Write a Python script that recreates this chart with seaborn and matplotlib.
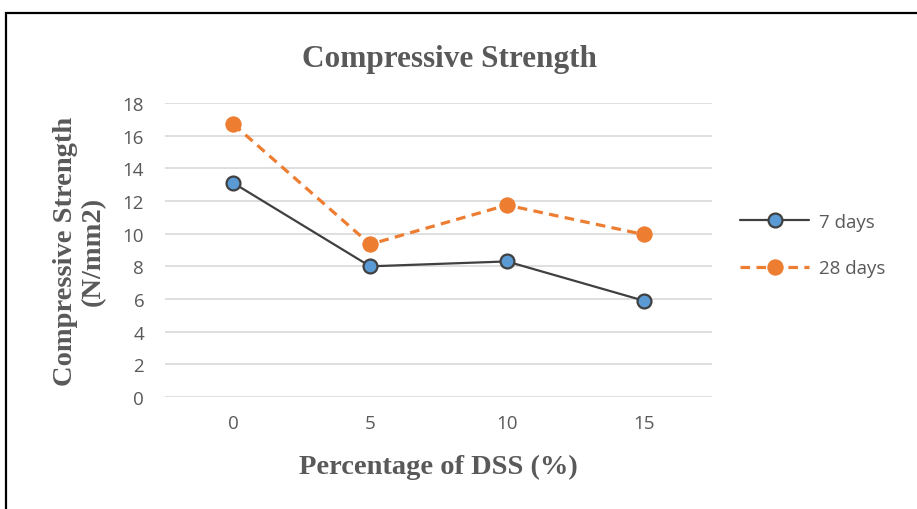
import matplotlib
matplotlib.use("Agg")
import matplotlib.pyplot as plt
import seaborn as sns
import pandas as pd
from matplotlib.patches import Rectangle

categories = ["0", "5", "10", "15"]
days7 = [13.1, 8.0, 8.3, 5.9]
days28 = [16.7, 9.35, 11.75, 9.95]
yticks = [0, 2, 4, 6, 8, 10, 12, 14, 16, 18]

sns.set_theme(style="white")
plt.rcParams['font.family'] = ['Open Sans', 'DejaVu Sans']

fig = plt.figure(figsize=(9.17, 5.10), dpi=100)
ax = fig.add_axes([165/917, 1-398/510, (712-165)/917, (398-104)/510])

df7 = pd.DataFrame({"x": categories, "y": days7})
df28 = pd.DataFrame({"x": categories, "y": days28})

sns.lineplot(data=df7, x="x", y="y", ax=ax, color="#404040", lw=1.6,
             marker="o", markersize=10, markerfacecolor="#5B9BD5",
             markeredgecolor="#404040", markeredgewidth=1.6, label="7 days", zorder=3)
sns.lineplot(data=df28, x="x", y="y", ax=ax, color="#ED7D31", lw=2.3,
             linestyle=(0, (3, 2)), marker="o", markersize=11,
             markerfacecolor="#ED7D31", markeredgecolor="#ED7D31", label="28 days", zorder=3)

ax.set_xlim(-0.5, 3.5)
ax.set_ylim(0, 18)
ax.set_yticks(yticks)
ax.yaxis.grid(True, color="#D9D9D9", lw=1.2)
ax.xaxis.grid(False)
for s in ax.spines.values():
    s.set_visible(False)
ax.tick_params(axis="y", length=0, labelsize=13.5, colors="#595959", pad=15)
ax.tick_params(axis="x", length=0, labelsize=13.5, colors="#595959", pad=12)

ax.set_xlabel("Percentage of DSS (%)", family="Liberation Serif", weight="bold",
              fontsize=20.5, color="#595959", labelpad=16)
ax.set_ylabel("Compressive Strength\n(N/mm2)", family="Liberation Serif", weight="bold",
              fontsize=20.5, color="#595959", labelpad=12, linespacing=1.15)
fig.text((300+598)/2/917, 1-60/510, "Compressive Strength", family="Liberation Serif",
         weight="bold", fontsize=22.5, color="#595959", ha="center", va="center")

leg = ax.legend(loc="center left", bbox_to_anchor=(740/917, 1-246/510),
                bbox_transform=fig.transFigure, frameon=False, fontsize=13.5,
                handlelength=3.7, labelspacing=1.5, borderaxespad=0, borderpad=0,
                handletextpad=0.5)
for t in leg.get_texts():
    t.set_color("#595959")

fig.patches.append(Rectangle((6/917, -0.1), 2.0, 1-14/510+0.1, transform=fig.transFigure,
                             fill=False, edgecolor="black", lw=1.6))

fig.savefig("out.png", dpi=100)
